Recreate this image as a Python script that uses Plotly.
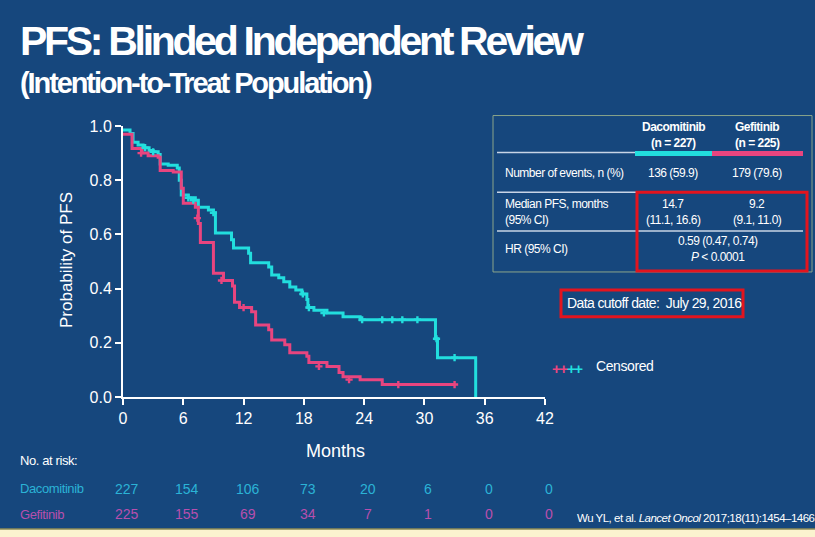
import plotly.graph_objects as go

# ---------------- data ----------------
daco_t = [0, 0.7, 1.0, 1.5, 2.0, 2.6, 3.0, 3.5, 3.7, 4.5, 5.4, 5.6, 5.8, 6.5, 7.2, 7.5, 8.5, 9.0, 9.2,
          10.8, 11.0, 12.5, 12.7, 14.5, 14.8, 15.5, 16.0, 16.6, 17.2, 17.8, 18.3, 18.4, 19.0, 20.3,
          21.9, 23.6, 31.1, 31.3, 35.1]
daco_s = [0.985, 0.972, 0.94, 0.93, 0.92, 0.91, 0.905, 0.895, 0.86, 0.855, 0.845, 0.80, 0.745, 0.735,
          0.726, 0.70, 0.69, 0.68, 0.605, 0.58, 0.55, 0.53, 0.495, 0.48, 0.45, 0.44, 0.425, 0.406,
          0.395, 0.38, 0.36, 0.33, 0.32, 0.31, 0.296, 0.285, 0.215, 0.145, 0.0]
daco_cens_t = [2.2, 3.0, 6.5, 7.0, 9.0, 17.9, 18.5, 20.0, 23.8, 25.8, 26.8, 27.8, 29.3, 31.2, 33.0]
daco_cens_s = [0.92, 0.905, 0.735, 0.726, 0.68, 0.38, 0.33, 0.31, 0.285, 0.285, 0.285, 0.285, 0.285, 0.215, 0.145]

gefi_t = [0, 0.9, 1.9, 2.5, 3.5, 3.7, 5.0, 5.8, 6.0, 7.2, 7.5, 7.7, 9.0, 10.0, 10.9, 11.1, 11.6, 12.8,
          13.2, 14.5, 14.8, 16.1, 16.6, 18.3, 18.5, 20.3, 21.5, 21.9, 23.6, 25.8, 33.0]
gefi_s = [0.97, 0.917, 0.90, 0.89, 0.885, 0.836, 0.83, 0.77, 0.715, 0.70, 0.64, 0.57, 0.457, 0.43, 0.41,
          0.35, 0.33, 0.315, 0.266, 0.248, 0.21, 0.193, 0.163, 0.15, 0.127, 0.113, 0.09, 0.075, 0.064,
          0.046, 0.046]
gefi_cens_t = [1.8, 7.4, 9.8, 12.0, 19.5, 22.5, 27.4, 33.0]
gefi_cens_s = [0.90, 0.66, 0.43, 0.33, 0.113, 0.064, 0.046, 0.046]

risk_months = [0, 6, 12, 18, 24, 30, 36, 42]
risk_daco = [227, 154, 106, 73, 20, 6, 0, 0]
risk_gefi = [225, 155, 69, 34, 7, 1, 0, 0]

x_ticks = [0, 6, 12, 18, 24, 30, 36, 42]
y_ticks = [0.0, 0.2, 0.4, 0.6, 0.8, 1.0]

# ---------------- style ----------------
BG = "#16477d"
CYAN = "#22dede"
PINK = "#e8457f"
RISK_CYAN = "#2bb3d6"
RISK_PINK = "#b84fae"
FONT = "Liberation Sans, Arial, sans-serif"

W, H = 815, 537
L, R, T, B = 123, 545, 125.5, 397.5
X_MAX = 42


def px(x):
    return (x - L) / (R - L)


def py(y):
    return (B - y) / (B - T)


def tight(s, ls):
    return '<span style="letter-spacing:%spx">%s</span>' % (ls, s)


fig = go.Figure()
fig.add_trace(go.Scatter(x=daco_t, y=daco_s, mode="lines", line=dict(color=CYAN, width=3, shape="hv"),
                         showlegend=False, hoverinfo="skip"))
fig.add_trace(go.Scatter(x=gefi_t, y=gefi_s, mode="lines", line=dict(color=PINK, width=3, shape="hv"),
                         showlegend=False, hoverinfo="skip"))
fig.add_trace(go.Scatter(x=daco_cens_t, y=daco_cens_s, mode="markers",
                         marker=dict(symbol="cross", size=6, color=CYAN), showlegend=False, hoverinfo="skip"))
fig.add_trace(go.Scatter(x=gefi_cens_t, y=gefi_cens_s, mode="markers",
                         marker=dict(symbol="cross", size=6, color=PINK), showlegend=False, hoverinfo="skip"))

shapes = []
ann = []

# title
ann.append(dict(text="<b>" + tight("PFS: Blinded Independent Review", -3.3) + "</b>", x=px(18), y=py(40),
                xanchor="left", yanchor="middle", font=dict(family=FONT, size=41, color="white")))
ann.append(dict(text="<b>" + tight("(Intention-to-Treat Population)", -2.1) + "</b>", x=px(18), y=py(82),
                xanchor="left", yanchor="middle", font=dict(family=FONT, size=29, color="white")))

# table box
shapes.append(dict(type="rect", xref="paper", yref="paper", x0=px(493), x1=px(812), y0=py(115), y1=py(272),
                   line=dict(color="#8aa58a", width=1)))
shapes.append(dict(type="line", xref="paper", yref="paper", x0=px(497), x1=px(635), y0=py(152), y1=py(152),
                   line=dict(color="#c8d4e6", width=1.5)))
shapes.append(dict(type="line", xref="paper", yref="paper", x0=px(635), x1=px(712), y0=py(153), y1=py(153),
                   line=dict(color=CYAN, width=5)))
shapes.append(dict(type="line", xref="paper", yref="paper", x0=px(712), x1=px(803), y0=py(153), y1=py(153),
                   line=dict(color=PINK, width=5)))
shapes.append(dict(type="line", xref="paper", yref="paper", x0=px(497), x1=px(637), y0=py(192), y1=py(192),
                   line=dict(color="#c8d4e6", width=1.5)))
shapes.append(dict(type="line", xref="paper", yref="paper", x0=px(497), x1=px(803), y0=py(231), y1=py(231),
                   line=dict(color="#c8d4e6", width=1.5)))
shapes.append(dict(type="rect", xref="paper", yref="paper", x0=px(637), x1=px(807), y0=py(192), y1=py(271),
                   line=dict(color="#e3141e", width=3)))

tfont = dict(family=FONT, size=12, color="white")
LS = -0.5
cells = [
    ("<b>Dacomitinib</b>", 673, 127),
    ("<b>(n = 227)</b>", 673, 143),
    ("<b>Gefitinib</b>", 757, 127),
    ("<b>(n = 225)</b>", 757, 143),
    ("136 (59.9)", 673, 173),
    ("179 (79.6)", 757, 173),
    ("14.7", 673, 204),
    ("(11.1, 16.6)", 673, 220),
    ("9.2", 757, 204),
    ("(9.1, 11.0)", 757, 220),
    ("0.59 (0.47, 0.74)", 718, 241),
    ("<i>P</i> < 0.0001", 718, 257),
]
for txt, cx, cy in cells:
    ann.append(dict(text=tight(txt, LS), x=px(cx), y=py(cy), xanchor="center", yanchor="middle", font=tfont))
for txt, cy in [("Number of events, n (%)", 173), ("Median PFS, months", 204), ("(95% CI)", 220),
                ("HR (95% CI)", 249)]:
    ann.append(dict(text=tight(txt, LS), x=px(503), y=py(cy), xanchor="left", yanchor="middle", font=tfont))

# data cutoff
shapes.append(dict(type="rect", xref="paper", yref="paper", x0=px(561), x1=px(743), y0=py(290), y1=py(317),
                   line=dict(color="#e3141e", width=3)))
ann.append(dict(text=tight("Data cutoff date:  July 29, 2016", -0.6), x=px(565), y=py(303), xanchor="left",
                yanchor="middle", font=dict(family=FONT, size=14, color="white")))

# censored legend
ann.append(dict(text="<b>" + tight("++", -1.5) + "</b>", x=px(570), y=py(369), xanchor="right", yanchor="middle",
                font=dict(family=FONT, size=15, color=PINK)))
ann.append(dict(text="<b>" + tight("++", -1.5) + "</b>", x=px(565), y=py(369), xanchor="left", yanchor="middle",
                font=dict(family=FONT, size=15, color=CYAN)))
ann.append(dict(text=tight("Censored", -0.4), x=px(594), y=py(366), xanchor="left", yanchor="middle",
                font=dict(family=FONT, size=14, color="white")))

# axis titles
ann.append(dict(text="Probability of PFS", x=px(66), y=py(260), textangle=-90, xanchor="center",
                yanchor="middle", font=dict(family=FONT, size=17, color="white")))
ann.append(dict(text="Months", x=px(335), y=py(452), xanchor="center", yanchor="middle",
                font=dict(family=FONT, size=18, color="white")))

# risk table
ann.append(dict(text=tight("No. at risk:", -0.4), x=px(18), y=py(461), xanchor="left", yanchor="middle",
                font=dict(family=FONT, size=13, color="white")))
ann.append(dict(text=tight("Dacomitinib", -0.4), x=px(18), y=py(489), xanchor="left", yanchor="middle",
                font=dict(family=FONT, size=13, color=RISK_CYAN)))
ann.append(dict(text=tight("Gefitinib", -0.4), x=px(18), y=py(515), xanchor="left", yanchor="middle",
                font=dict(family=FONT, size=13, color=RISK_PINK)))
for m, d, g in zip(risk_months, risk_daco, risk_gefi):
    xp = (m + 0.4) / X_MAX
    ann.append(dict(text=str(d), x=xp, y=py(490), xanchor="center", yanchor="middle",
                    font=dict(family=FONT, size=14, color=RISK_CYAN)))
    ann.append(dict(text=str(g), x=xp, y=py(515), xanchor="center", yanchor="middle",
                    font=dict(family=FONT, size=14, color=RISK_PINK)))

# citation
ann.append(dict(text=tight("Wu YL, et al. <i>Lancet Oncol</i> 2017;18(11):1454–1466", -0.5), x=px(575),
                y=py(519), xanchor="left", yanchor="middle", font=dict(family=FONT, size=11.5, color="white")))

# bottom stripe
shapes.append(dict(type="rect", xref="paper", yref="paper", x0=px(0), x1=px(W), y0=py(530), y1=py(H + 2),
                   fillcolor="#fbf3cf", line=dict(width=0), layer="above"))
shapes.append(dict(type="line", xref="paper", yref="paper", x0=px(0), x1=px(W), y0=py(530), y1=py(530),
                   line=dict(color="#8c8a55", width=1.5)))

for a in ann:
    a.setdefault("xref", "paper")
    a.setdefault("yref", "paper")
    a["showarrow"] = False

fig.update_layout(
    width=W, height=H,
    margin=dict(l=L, r=W - R, t=T, b=H - B, pad=0),
    paper_bgcolor=BG, plot_bgcolor=BG,
    shapes=shapes, annotations=ann,
    xaxis=dict(range=[0, X_MAX], tickvals=x_ticks, ticktext=[str(v) for v in x_ticks], showgrid=False,
               zeroline=False, showline=True, linecolor="white", linewidth=2, ticks="outside", ticklen=6,
               tickwidth=2, tickcolor="white", tickfont=dict(family=FONT, size=16, color="white")),
    yaxis=dict(range=[0, 1], tickvals=y_ticks, ticktext=["%.1f" % v for v in y_ticks], showgrid=False,
               zeroline=False, showline=True, linecolor="white", linewidth=2, ticks="outside", ticklen=6,
               tickwidth=2, tickcolor="white", tickfont=dict(family=FONT, size=16, color="white")),
)

fig.write_html("out.html", config={"displayModeBar": False},
               post_script="document.body.style.margin='0';document.body.style.overflow='hidden';")
